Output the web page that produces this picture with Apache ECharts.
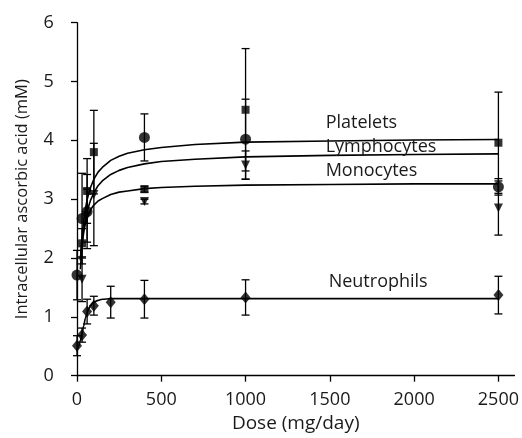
<!DOCTYPE html>
<html><head><meta charset="utf-8">
<script src="https://cdn.jsdelivr.net/npm/echarts@6/dist/echarts.min.js"></script>
<style>html,body{margin:0;padding:0;background:#fff}#c{width:522px;height:438px}</style>
</head><body><div id="c"></div>
<script>
// Squares
const sqDose = [30, 60, 100, 400, 1000, 2500];
const sqVal  = [2.25, 3.14, 3.80, 3.17, 4.52, 3.96];
const sqErr  = [0.25, 0.55, 0.71, 0.05, 1.04, 0.86];
// Circles
const ciDose = [0, 30, 60, 400, 1000, 2500];
const ciVal  = [1.71, 2.67, 2.79, 4.05, 4.02, 3.21];
const ciErr  = [0.42, 0.77, 0.63, 0.40, 0.68, 0.14];
// Triangles
const trDose = [30, 60, 100, 400, 1000, 2500];
const trVal  = [1.64, 2.72, 3.08, 2.96, 3.58, 2.85];
const trErr  = [0.38, 0.45, 0.87, 0.04, 0.24, 0.46];
// Diamonds (neutrophils)
const diDose = [0, 30, 60, 100, 200, 400, 1000, 2500];
const diVal  = [0.51, 0.69, 1.09, 1.19, 1.25, 1.30, 1.33, 1.37];
const diErr  = [0.17, 0.12, 0.21, 0.16, 0.27, 0.32, 0.30, 0.32];

// Fitted curves
const curveDose = [20, 25, 30, 40, 50, 60, 70, 80, 100, 125, 150, 200, 250, 300, 400, 500, 700, 1000, 1500, 2000, 2500];
const platCurve = [1.96, 2.18, 2.36, 2.64, 2.84, 2.99, 3.10, 3.20, 3.34, 3.46, 3.54, 3.66, 3.73, 3.78, 3.84, 3.88, 3.93, 3.97, 3.99, 4.007, 4.016];
const lymCurve  = [1.81, 2.02, 2.19, 2.45, 2.64, 2.78, 2.89, 2.98, 3.11, 3.23, 3.31, 3.42, 3.49, 3.54, 3.60, 3.64, 3.68, 3.72, 3.745, 3.76, 3.77];
const monCurve  = [1.98, 2.15, 2.28, 2.47, 2.59, 2.69, 2.76, 2.82, 2.90, 2.97, 3.01, 3.08, 3.12, 3.14, 3.18, 3.20, 3.22, 3.24, 3.25, 3.26, 3.26];
const neuDose   = [0, 10, 20, 30, 40, 50, 60, 70, 80, 100, 125, 150, 200, 2500];
const neuCurve  = [0.42, 0.50, 0.60, 0.72, 0.85, 0.98, 1.07, 1.14, 1.19, 1.25, 1.28, 1.30, 1.31, 1.31];

const xTicks = [0, 500, 1000, 1500, 2000, 2500];
const labels = [
  {name: 'Platelets',   dose: 1475, val: 4.30},
  {name: 'Lymphocytes', dose: 1475, val: 3.89},
  {name: 'Monocytes',   dose: 1475, val: 3.48},
  {name: 'Neutrophils', dose: 1493, val: 1.59}
];

const FONT = '"Open Sans", sans-serif';
const pairs = (xs, ys) => xs.map((x, i) => [x, ys[i]]);
const errs = (xs, ys, es) => xs.map((x, i) => [x, ys[i] - es[i], ys[i] + es[i]]);

function errSeries(data) {
  return {
    type: 'custom', z: 2,
    renderItem: function (params, api) {
      const x = api.value(0), lo = api.value(1), hi = api.value(2);
      const a = api.coord([x, lo]), b = api.coord([x, hi]);
      const w = 4;
      const st = {stroke: '#000', lineWidth: 1.3};
      return {type: 'group', children: [
        {type: 'line', shape: {x1: a[0], y1: a[1], x2: b[0], y2: b[1]}, style: st},
        {type: 'line', shape: {x1: a[0] - w, y1: a[1], x2: a[0] + w, y2: a[1]}, style: st},
        {type: 'line', shape: {x1: b[0] - w, y1: b[1], x2: b[0] + w, y2: b[1]}, style: st}
      ]};
    },
    encode: {x: 0, y: [1, 2]},
    data: data
  };
}
function curve(xs, ys, sm) {
  return {type: 'line', data: pairs(xs, ys), showSymbol: false, smooth: sm || false, smoothMonotone: 'x',
    lineStyle: {color: '#000', width: 1.6}, z: 3, silent: true};
}
function marks(xs, ys, sym, size, rot) {
  return {type: 'scatter', data: pairs(xs, ys), symbol: sym, symbolSize: size, symbolRotate: rot || 0,
    itemStyle: {color: '#000'}, z: 4};
}
const labelStyle = {show: true, position: 'right', distance: 0, formatter: p => p.value,
  fontFamily: FONT, fontSize: 18, color: '#1a1a1a'};

const chart = echarts.init(document.getElementById('c'), null, {renderer: 'canvas'});
chart.setOption({
  animation: false,
  grid: {left: 77, right: 7, top: 22.7, bottom: 62.3, containLabel: false},
  xAxis: {
    type: 'value', min: 0, max: 2595, offset: 6,
    name: 'Dose (mg/day)', nameLocation: 'middle', nameGap: 29,
    nameTextStyle: {fontFamily: FONT, fontSize: 19, color: '#1a1a1a'},
    axisLine: {show: true, lineStyle: {color: '#000', width: 1.3}},
    axisTick: {show: true, length: 6, lineStyle: {color: '#000', width: 1.3}, customValues: xTicks},
    axisLabel: {fontFamily: FONT, fontSize: 18, color: '#1a1a1a', margin: 9, customValues: xTicks,
      formatter: v => String(v)},
    splitLine: {show: false}
  },
  yAxis: {
    type: 'value', min: 0, max: 6, interval: 1, offset: 9.3,
    name: 'Intracellular ascorbic acid (mM)', nameLocation: 'middle', nameGap: 37,
    nameTextStyle: {fontFamily: FONT, fontSize: 16.5, color: '#1a1a1a'},
    axisLine: {show: true, lineStyle: {color: '#000', width: 1.3}},
    axisTick: {show: true, length: 6, lineStyle: {color: '#000', width: 1.3}},
    axisLabel: {fontFamily: FONT, fontSize: 18, color: '#1a1a1a', margin: 14},
    splitLine: {show: false}
  },
  series: [
    errSeries(errs(sqDose, sqVal, sqErr)),
    errSeries(errs(ciDose, ciVal, ciErr)),
    errSeries(errs(trDose, trVal, trErr)),
    errSeries(errs(diDose, diVal, diErr)),
    Object.assign(curve(curveDose, platCurve), {
      markPoint: {symbol: 'circle', symbolSize: 0, silent: true,
        data: labels.slice(0, 3).map(l => ({coord: [l.dose, l.val], value: l.name})),
        label: labelStyle}
    }),
    curve(curveDose, lymCurve),
    curve(curveDose, monCurve),
    Object.assign(curve(neuDose, neuCurve, 0.3), {
      markPoint: {symbol: 'circle', symbolSize: 0, silent: true,
        data: labels.slice(3).map(l => ({coord: [l.dose, l.val], value: l.name})),
        label: labelStyle}
    }),
    marks(sqDose, sqVal, 'rect', 8),
    marks(ciDose, ciVal, 'circle', 11),
    marks(trDose, trVal, 'triangle', 9, 180),
    marks(diDose, diVal, 'diamond', [10, 12])
  ]
});
</script></body></html>
